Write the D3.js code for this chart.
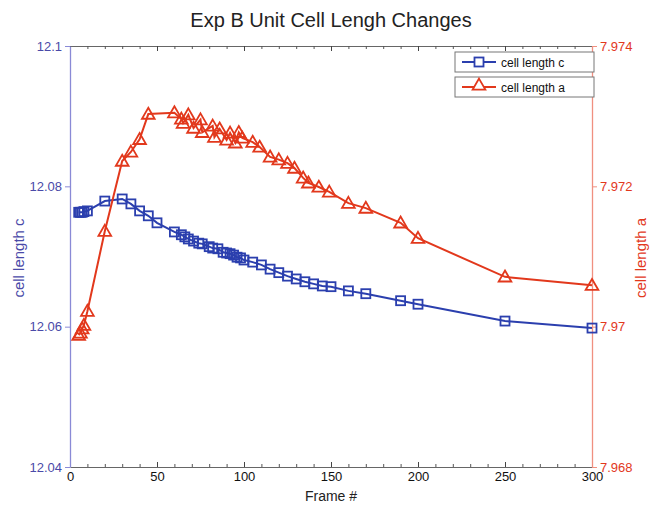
<!DOCTYPE html>
<html>
<head>
<meta charset="utf-8">
<script src="https://cdn.jsdelivr.net/npm/d3@7"></script>
<style>
  body { margin: 0; background: #fff; }
  text { font-family: "Liberation Sans", Arial, sans-serif; }
</style>
</head>
<body>
<div id="chart"></div>
<script>
// data
var framesC = [5, 6, 7, 8, 10, 20, 30, 35, 40, 45, 50, 60, 64, 66, 68, 71, 74, 76, 80, 82, 85, 88, 90, 92, 94, 96, 98, 100, 105, 110, 115, 120, 125, 130, 135, 140, 145, 150, 160, 170, 190, 200, 250, 300];
var cellC = [12.0763, 12.0763, 12.0763, 12.0764, 12.0765, 12.0779, 12.0782, 12.0775, 12.0765, 12.0758, 12.0748, 12.0735, 12.0731, 12.0728, 12.0725, 12.0722, 12.0719, 12.0718, 12.0714, 12.0712, 12.0711, 12.0706, 12.0705, 12.0704, 12.0702, 12.0699, 12.0698, 12.0695, 12.0692, 12.0688, 12.0682, 12.0677, 12.0672, 12.0668, 12.0664, 12.0661, 12.0658, 12.0657, 12.0651, 12.0647, 12.0637, 12.0632, 12.0608, 12.0598];

var framesA = [5, 6, 7, 8, 10, 20, 30, 35, 40, 45, 60, 64, 65, 68, 71, 75, 76, 82, 83, 86, 90, 92, 95, 97, 99, 105, 109, 115, 120, 125, 129, 134, 137, 143, 149, 160, 170, 190, 200, 250, 300];
var cellA = [7.96988, 7.96991, 7.96997, 7.97002, 7.97022, 7.97136, 7.97236, 7.97249, 7.97267, 7.97303, 7.97305, 7.97296, 7.97290, 7.97302, 7.97283, 7.97295, 7.97277, 7.97286, 7.97270, 7.97282, 7.97266, 7.97276, 7.97262, 7.97277, 7.97269, 7.97263, 7.97256, 7.97242, 7.97238, 7.97233, 7.97226, 7.97212, 7.97205, 7.97199, 7.97192, 7.97176, 7.97169, 7.97148, 7.97126, 7.97071, 7.97059];

var xTicks = [0, 50, 100, 150, 200, 250, 300];
var leftTicks = [12.04, 12.06, 12.08, 12.1];
var rightTicks = [7.968, 7.97, 7.972, 7.974];

drawChart();

function drawChart() {
	var blue = "#2b3fae", red = "#e2381c";

	var width = 651, height = 505;
	var pl = 70, pr = 592, pt = 46, pb = 467;

	var x = d3.scaleLinear().domain([0, 300]).range([pl, pr]);
	var yC = d3.scaleLinear().domain([12.04, 12.1]).range([pb, pt]);
	var yA = d3.scaleLinear().domain([7.968, 7.974]).range([pb, pt]);

	var svg = d3.select("#chart").append("svg")
		.attr("width", width)
		.attr("height", height);

	// title
	svg.append("text")
		.attr("x", 331).attr("y", 27)
		.attr("text-anchor", "middle")
		.style("font-size", "20px")
		.style("fill", "#222")
		.text("Exp B Unit Cell Lengh Changes");

	// bottom and top axes (ticks point inward, minor every 10)
	var xb = svg.append("g")
		.attr("transform", "translate(0," + pb + ")")
		.call(d3.axisBottom(x).tickValues(d3.range(0, 301, 10)).tickSize(-3).tickSizeOuter(0).tickFormat(""));
	xb.selectAll("line").attr("stroke", "#555");
	xb.select(".domain").attr("stroke", "#666");
	svg.append("g")
		.attr("transform", "translate(0," + pb + ")")
		.call(d3.axisBottom(x).tickValues(xTicks).tickSize(-5).tickPadding(5))
		.call(function(g) {
			g.select(".domain").remove();
			g.selectAll("line").attr("stroke", "#444");
			g.selectAll("text").style("font-size", "13px").attr("fill", "#111");
		});
	var xt = svg.append("g")
		.attr("transform", "translate(0," + pt + ")")
		.call(d3.axisTop(x).tickValues(d3.range(0, 301, 10)).tickSize(-3).tickSizeOuter(0).tickFormat(""));
	xt.selectAll("line").attr("stroke", "#555");
	xt.select(".domain").attr("stroke", "#666");
	svg.append("g")
		.attr("transform", "translate(0," + pt + ")")
		.call(d3.axisTop(x).tickValues(xTicks).tickSize(-5).tickFormat(""))
		.call(function(g) {
			g.select(".domain").remove();
			g.selectAll("line").attr("stroke", "#444");
		});

	// left axis
	svg.append("g")
		.attr("transform", "translate(" + pl + ",0)")
		.call(d3.axisLeft(yC).tickValues(leftTicks).tickSize(5).tickPadding(3).tickSizeOuter(0)
			.tickFormat(function(d) { return String(+d.toFixed(2)); }))
		.call(function(g) {
			g.select(".domain").attr("stroke", "#8a8ad6").attr("stroke-width", 1.3);
			g.selectAll("line").attr("stroke", "#8a8ad6");
			g.selectAll("text").style("font-size", "13px").attr("fill", "#4a4aa8");
		});

	// right axis
	svg.append("g")
		.attr("transform", "translate(" + pr + ",0)")
		.call(d3.axisRight(yA).tickValues(rightTicks).tickSize(5).tickPadding(3).tickSizeOuter(0)
			.tickFormat(function(d) { return String(+d.toFixed(3)); }))
		.call(function(g) {
			g.select(".domain").attr("stroke", "#f09080").attr("stroke-width", 1.3);
			g.selectAll("line").attr("stroke", "#f09080");
			g.selectAll("text").style("font-size", "13px").attr("fill", "#e2381c");
		});

	// axis labels
	svg.append("text")
		.attr("x", 331).attr("y", 501)
		.attr("text-anchor", "middle")
		.style("font-size", "14px")
		.style("fill", "#222")
		.text("Frame #");
	svg.append("text")
		.attr("transform", "translate(24,258) rotate(-90)")
		.attr("text-anchor", "middle")
		.style("font-size", "15px")
		.style("fill", "#4a4aa8")
		.text("cell length c");
	svg.append("text")
		.attr("transform", "translate(646,258) rotate(-90)")
		.attr("text-anchor", "middle")
		.style("font-size", "15px")
		.style("fill", red)
		.text("cell length a");

	var dataC = framesC.map(function(f, i) { return {f: f, v: cellC[i]}; });
	var dataA = framesA.map(function(f, i) { return {f: f, v: cellA[i]}; });

	// series c
	svg.append("path")
		.datum(dataC)
		.attr("fill", "none")
		.attr("stroke", blue)
		.attr("stroke-width", 2)
		.attr("d", d3.line().x(function(d) { return x(d.f); }).y(function(d) { return yC(d.v); }));
	svg.selectAll(".sq")
		.data(dataC)
		.enter().append("rect")
		.attr("x", function(d) { return x(d.f) - 4.5; })
		.attr("y", function(d) { return yC(d.v) - 4.5; })
		.attr("width", 9).attr("height", 9)
		.attr("fill", "none")
		.attr("stroke", blue)
		.attr("stroke-width", 1.8);

	// series a
	svg.append("path")
		.datum(dataA)
		.attr("fill", "none")
		.attr("stroke", red)
		.attr("stroke-width", 2)
		.attr("d", d3.line().x(function(d) { return x(d.f); }).y(function(d) { return yA(d.v); }));
	var tri = d3.symbol().type(d3.symbolTriangle).size(70);
	svg.selectAll(".tri")
		.data(dataA)
		.enter().append("path")
		.attr("transform", function(d) { return "translate(" + x(d.f) + "," + (yA(d.v) + 1) + ")"; })
		.attr("d", tri)
		.attr("fill", "none")
		.attr("stroke", red)
		.attr("stroke-width", 1.8);

	// legend (two boxes)
	var legend = [
		{label: "cell length c", color: blue, y: 52, mark: "sq"},
		{label: "cell length a", color: red, y: 77, mark: "tri"}
	];
	legend.forEach(function(l) {
		var g = svg.append("g").attr("transform", "translate(455," + l.y + ")");
		g.append("rect").attr("width", 139).attr("height", 20)
			.attr("fill", "#fff").attr("stroke", "#777").attr("stroke-width", 1);
		g.append("line").attr("x1", 7).attr("x2", 41).attr("y1", 10).attr("y2", 10)
			.attr("stroke", l.color).attr("stroke-width", 2);
		if (l.mark == "sq") {
			g.append("rect").attr("x", 19.5).attr("y", 5.5).attr("width", 9).attr("height", 9)
				.attr("fill", "#fff").attr("stroke", l.color).attr("stroke-width", 1.8);
		} else {
			g.append("path").attr("transform", "translate(24,9)").attr("d", tri)
				.attr("fill", "#fff").attr("stroke", l.color).attr("stroke-width", 1.8);
		}
		g.append("text").attr("x", 46).attr("y", 14.5)
			.style("font-size", "12px").style("fill", "#111")
			.text(l.label);
	});
}
</script>
</body>
</html>
